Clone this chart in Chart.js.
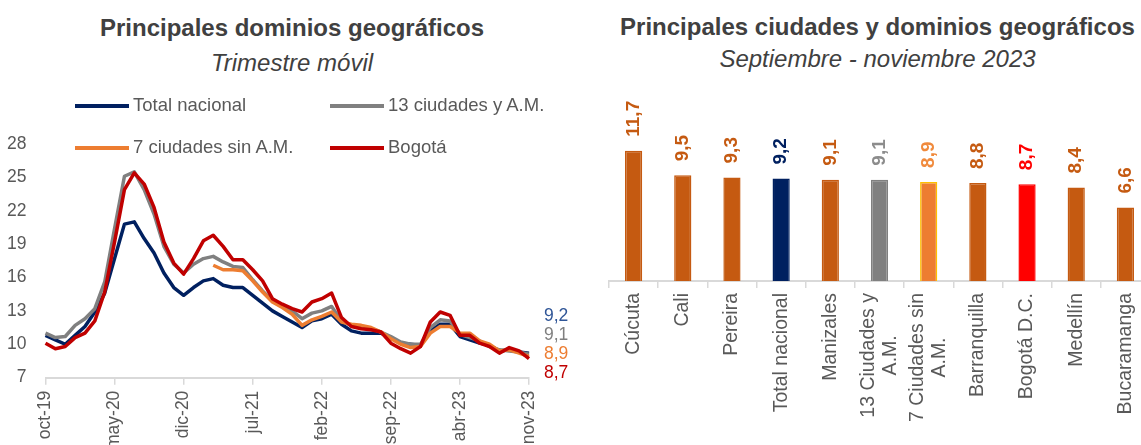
<!DOCTYPE html>
<html lang="es">
<head>
<meta charset="utf-8">
<title>Desocupación por dominios geográficos</title>
<script src="https://cdn.jsdelivr.net/npm/chart.js@4.4.0/dist/chart.umd.min.js"></script>
<style>
  html, body { margin: 0; padding: 0; background: #fff; }
  body { width: 1141px; height: 445px; overflow: hidden; position: relative;
         font-family: "Liberation Sans", Arial, sans-serif; color: #595959; }
  .box { position: absolute; top: 0; }
  .titulo { position: absolute; text-align: center; font-size: 24px; line-height: 28px;
            color: #404040; white-space: nowrap; }
  .b { font-weight: bold; }
  .i { font-style: italic; }
  .ley { position: absolute; font-size: 18.5px; line-height: 22px; white-space: nowrap; }
  .ley i { display: inline-block; width: 54px; height: 4px; vertical-align: middle; margin-right: 4px; }
</style>
</head>
<body>

<div class="titulo b" style="left:0;width:584px;top:14px">Principales dominios geográficos</div>
<div class="titulo i" style="left:0;width:584px;top:49px">Trimestre móvil</div>

<div class="box" style="left:0"><canvas id="lineas" width="585" height="455"></canvas></div>

<div class="ley" style="left:75px;top:94px"><i style="background:#002060"></i>Total nacional</div>
<div class="ley" style="left:330px;top:94px"><i style="background:#808080"></i>13 ciudades y A.M.</div>
<div class="ley" style="left:75px;top:136px"><i style="background:#ED7D31"></i>7 ciudades sin A.M.</div>
<div class="ley" style="left:330px;top:136px"><i style="background:#C00000"></i>Bogotá</div>

<div class="titulo b" style="left:590px;width:575px;top:13px">Principales ciudades y dominios geográficos</div>
<div class="titulo i" style="left:590px;width:575px;top:45px">Septiembre - noviembre 2023</div>

<div class="box" style="left:590px"><canvas id="barras" width="570" height="427"></canvas></div>

<script>
// trimestre móvil, oct-19 a nov-23
var totalNacional = [
  10.8, 10.4, 10.0, 10.8, 11.6, 12.9, 14.6, 17.7, 20.8, 21.0,
  19.5, 18.2, 16.4, 15.1, 14.4, 15.1, 15.7, 15.9, 15.3, 15.1,
  15.1, 14.4, 13.7, 13.0, 12.5, 12.0, 11.5, 12.1, 12.3, 12.7,
  11.8, 11.2, 11.0, 11.0, 11.0, 10.6, 10.1, 10.0, 9.9, 11.2,
  11.8, 11.8, 10.7, 10.4, 10.1, 9.9, 9.4, 9.5, 9.3, 9.2
];
var trece = [
  11.0, 10.6, 10.7, 11.7, 12.3, 13.2, 15.6, 20.4, 25.1, 25.5,
  23.9, 21.7, 18.8, 17.2, 16.4, 17.2, 17.7, 17.9, 17.4, 17.0,
  16.9, 15.8, 14.8, 13.9, 13.5, 13.0, 12.3, 12.8, 13.0, 13.4,
  12.1, 11.7, 11.5, 11.4, 11.1, 10.7, 10.2, 10.0, 10.0, 11.5,
  12.2, 12.1, 10.9, 10.6, 10.3, 9.8, 9.5, 9.4, 9.3, 9.1
];
var siete = [
  null, null, null, null, null, null, null, null, null, null,
  null, null, null, null, null, null, null, 17.1, 16.7, 16.7,
  16.6, 15.7, 14.7, 13.8, 13.3, 12.7, 11.7, 12.2, 12.5, 12.9,
  12.0, 11.8, 11.7, 11.5, 11.1, 10.5, 10.0, 9.7, 9.8, 11.0,
  11.6, 11.6, 11.0, 11.0, 10.3, 10.0, 9.4, 9.5, 9.2, 8.9
];
var bogota = [
  10.1, 9.6, 9.8, 10.6, 11.0, 12.1, 14.7, 19.2, 23.9, 25.4,
  24.4, 22.3, 19.2, 17.3, 16.3, 17.7, 19.3, 19.8, 18.8, 17.6,
  17.6, 16.7, 15.7, 14.1, 13.6, 13.2, 12.9, 13.8, 14.1, 14.6,
  12.4, 11.6, 11.4, 11.3, 11.1, 10.1, 9.6, 9.2, 9.8, 12.0,
  12.9, 12.6, 10.8, 10.8, 10.1, 9.8, 9.2, 9.7, 9.4, 8.7
];

var meses = ['ene', 'feb', 'mar', 'abr', 'may', 'jun', 'jul', 'ago', 'sep', 'oct', 'nov', 'dic'];
var periodos = [];
for (var k = 0; k < totalNacional.length; k++) {
  periodos.push(meses[(9 + k) % 12] + '-' + (19 + Math.floor((9 + k) / 12)));
}

// septiembre - noviembre 2023
var ciudades = ['Cúcuta', 'Cali', 'Pereira', 'Total nacional', 'Manizales',
  ['13 Ciudades y', 'A.M.'], ['7 Ciudades sin', 'A.M.'], 'Barranquilla',
  'Bogotá D.C.', 'Medellín', 'Bucaramanga'];
var tasas = [11.7, 9.5, 9.3, 9.2, 9.1, 9.1, 8.9, 8.8, 8.7, 8.4, 6.6];

var fuente = '"Liberation Sans", Arial, sans-serif';
var gris = '#595959';

function coma(v) {
  return v.toFixed(1).replace('.', ',');
}

var etiquetasFinales = {
  id: 'etiquetasFinales',
  afterDatasetsDraw: function(chart) {
    var ctx = chart.ctx;
    var xs = chart.scales.x, ys = chart.scales.y;
    var colores = ['#2F5597', '#7F7F7F', '#ED7D31', '#C00000'];
    var series = [totalNacional, trece, siete, bogota];
    var ult = totalNacional.length - 1;
    var x = xs.getPixelForValue(ult) + 15;
    var suma = 0;
    series.forEach(function(s) { suma += ys.getPixelForValue(s[ult]); });
    var centro = suma / series.length - 11;
    ctx.save();
    ctx.font = '17.5px ' + fuente;
    ctx.textAlign = 'left';
    ctx.textBaseline = 'middle';
    series.forEach(function(s, i) {
      ctx.fillStyle = colores[i];
      ctx.fillText(coma(s[ult]), x, centro + (i - 1.5) * 19);
    });
    ctx.restore();
  }
};

new Chart(document.getElementById('lineas'), {
  type: 'line',
  data: {
    labels: periodos,
    datasets: [
      { label: 'Total nacional', data: totalNacional, borderColor: '#002060', order: 3 },
      { label: '13 ciudades y A.M.', data: trece, borderColor: '#808080', order: 2 },
      { label: '7 ciudades sin A.M.', data: siete, borderColor: '#ED7D31', order: 1 },
      { label: 'Bogotá', data: bogota, borderColor: '#C00000', order: 0 }
    ]
  },
  options: {
    responsive: false,
    animation: false,
    layout: { padding: { top: 144, left: 7, right: 56, bottom: 0 } },
    elements: {
      line: { borderWidth: 3.5, tension: 0, borderJoinStyle: 'round', fill: false },
      point: { radius: 0, hoverRadius: 0 }
    },
    plugins: { legend: { display: false }, tooltip: { enabled: false } },
    scales: {
      x: {
        type: 'category',
        offset: false,
        afterBuildTicks: function(scale) {
          scale.ticks = scale.ticks.filter(function(t, i) { return i % 7 === 0; });
        },
        ticks: { autoSkip: false, maxRotation: 90, minRotation: 90, padding: 6,
                 color: gris, font: { family: fuente, size: 17.5 } },
        grid: { drawOnChartArea: false, tickLength: 7, color: '#D9D9D9', lineWidth: 1.5 },
        border: { color: '#D9D9D9', width: 2 }
      },
      y: {
        min: 7, max: 28,
        afterFit: function(scale) { scale.width = 38.5; },
        ticks: { stepSize: 3, padding: 19, color: gris, font: { family: fuente, size: 17.5 } },
        grid: { display: false, drawTicks: false },
        border: { display: false }
      }
    }
  },
  plugins: [etiquetasFinales]
});

var coloresBarras = ['#C55A11', '#C55A11', '#C55A11', '#002060', '#C55A11', '#808080',
  '#ED7D31', '#C55A11', '#FF0000', '#C55A11', '#C55A11'];
var bordesBarras = ['#C55A11', '#C55A11', '#C55A11', '#002060', '#C55A11', '#808080',
  '#FFC000', '#C55A11', '#FF0000', '#C55A11', '#C55A11'];
var coloresValores = ['#C55A11', '#C55A11', '#C55A11', '#002060', '#C55A11', '#8C8C8C',
  '#F08A3C', '#C55A11', '#FF0000', '#C55A11', '#C55A11'];

var valoresBarras = {
  id: 'valoresBarras',
  afterDatasetsDraw: function(chart) {
    var ctx = chart.ctx;
    var meta = chart.getDatasetMeta(0);
    ctx.save();
    ctx.font = 'bold 19px ' + fuente;
    ctx.textAlign = 'left';
    ctx.textBaseline = 'middle';
    meta.data.forEach(function(bar, i) {
      ctx.save();
      ctx.translate(bar.x, bar.y - 14);
      ctx.rotate(-Math.PI / 2);
      ctx.fillStyle = coloresValores[i];
      ctx.fillText(coma(tasas[i]), 0, 0);
      ctx.restore();
    });
    ctx.restore();
  }
};

// nombres verticales; en las de dos renglones cada renglón va centrado en el bloque
var nombresCiudades = {
  id: 'nombresCiudades',
  afterDraw: function(chart) {
    var ctx = chart.ctx, xs = chart.scales.x;
    var tam = 19.5, alto = tam * 1.12;
    var y0 = xs.top + 7 + 5;
    ctx.save();
    ctx.font = tam + 'px ' + fuente;
    ctx.fillStyle = gris;
    ctx.textAlign = 'center';
    ctx.textBaseline = 'middle';
    ciudades.forEach(function(c, i) {
      var lineas = [].concat(c);
      var ancho = Math.max.apply(null, lineas.map(function(t) { return ctx.measureText(t).width; }));
      var x = xs.getPixelForTick(i);
      lineas.forEach(function(t, j) {
        ctx.save();
        ctx.translate(x + (j - (lineas.length - 1) / 2) * alto, y0 + ancho / 2);
        ctx.rotate(-Math.PI / 2);
        ctx.fillText(t, 0, 0);
        ctx.restore();
      });
    });
    ctx.restore();
  }
};

new Chart(document.getElementById('barras'), {
  type: 'bar',
  data: {
    labels: ciudades,
    datasets: [{
      data: tasas,
      backgroundColor: coloresBarras,
      borderColor: bordesBarras,
      borderWidth: 1.5,
      barPercentage: 0.35,
      categoryPercentage: 1
    }]
  },
  options: {
    responsive: false,
    animation: false,
    layout: { padding: { top: 89.5, left: 19, right: 10, bottom: 0 } },
    plugins: { legend: { display: false }, tooltip: { enabled: false } },
    scales: {
      x: {
        // las etiquetas las pinta nombresCiudades; aquí solo reservan el espacio
        ticks: { autoSkip: false, maxRotation: 90, minRotation: 90, padding: 5, color: 'rgba(0,0,0,0)',
                 font: { family: fuente, size: 19.5, lineHeight: 1.12 } },
        grid: { drawOnChartArea: false, tickLength: 7, color: '#D9D9D9', lineWidth: 1.5 },
        border: { color: '#D9D9D9', width: 2 }
      },
      y: { display: false, min: 0, max: 17.2 }
    }
  },
  plugins: [valoresBarras, nombresCiudades]
});
</script>
</body>
</html>
